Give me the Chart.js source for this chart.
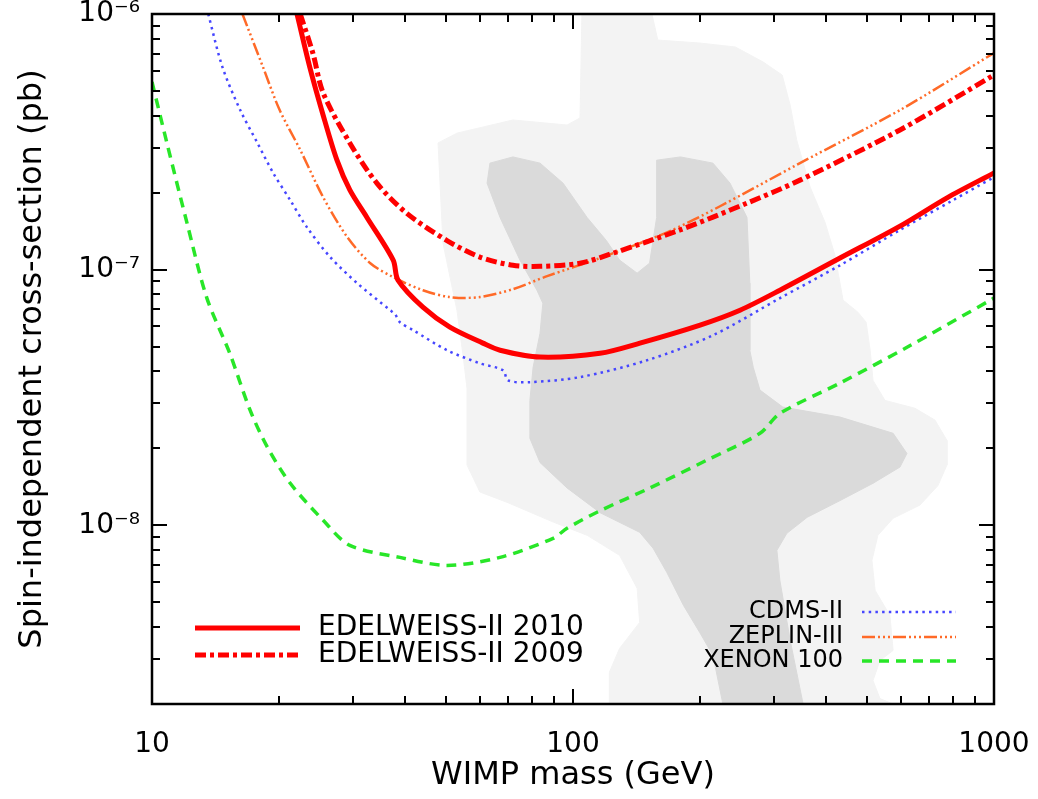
<!DOCTYPE html>
<html>
<head>
<meta charset="utf-8">
<script src="https://cdn.jsdelivr.net/npm/chart.js@4.4.1/dist/chart.umd.min.js"></script>
<style>
  html, body { margin: 0; padding: 0; background: #fff; }
  #wrap { width: 1038px; height: 799px; }
</style>
</head>
<body>
<div id="wrap"><canvas id="myChart" width="1038" height="799"></canvas></div>
<script>
// WIMP mass (GeV) and cross-section (pb)
const edel2010Mass = [22.1, 23.7, 25.5, 27.5, 29.5, 32.4, 37.4, 38.4, 44.0, 51.0, 61.1, 67.1, 83.5, 115.9, 144.2, 200.4, 249.3, 310.2, 430.8, 598.1, 773.4, 1000];
const edel2010Sigma = [1.0e-6, 6.2e-7, 4.02e-7, 2.68e-7, 2.05e-7, 1.60e-7, 1.09e-7, 9.1e-8, 7.13e-8, 5.96e-8, 5.16e-8, 4.84e-8, 4.55e-8, 4.71e-8, 5.16e-8, 6.07e-8, 6.94e-8, 8.31e-8, 1.11e-7, 1.48e-7, 1.91e-7, 2.39e-7];

const edel2009Mass = [22.5, 24.1, 25.5, 29.5, 34.2, 40.3, 50.2, 60.1, 72.0, 83.5, 103.9, 124.5, 179.6, 259.0, 346, 598, 1000];
const edel2009Sigma = [1.0e-6, 7.04e-7, 4.91e-7, 3.13e-7, 2.18e-7, 1.66e-7, 1.30e-7, 1.12e-7, 1.04e-7, 1.03e-7, 1.06e-7, 1.16e-7, 1.43e-7, 1.82e-7, 2.24e-7, 3.52e-7, 5.77e-7];

const cdmsMass = [13.6, 14.7, 16.2, 17.8, 19.4, 21.3, 23.3, 26.5, 30.7, 36.8, 37.8, 38.8, 41.7, 50.2, 60.1, 68.2, 70.1, 79.0, 103.9, 149.9, 215.1, 310.2, 430.8, 598.1, 799.2, 1000];
const cdmsSigma = [1.0e-6, 6.2e-7, 4.21e-7, 3.13e-7, 2.39e-7, 1.87e-7, 1.47e-7, 1.12e-7, 8.86e-8, 6.94e-8, 6.69e-8, 6.23e-8, 5.80e-8, 4.84e-8, 4.30e-8, 4.04e-8, 3.69e-8, 3.63e-8, 3.80e-8, 4.42e-8, 5.54e-8, 7.74e-8, 1.04e-7, 1.43e-7, 1.87e-7, 2.30e-7];

const zeplinMass = [16.4, 18.35, 20.1, 22.5, 25.5, 29.1, 33.0, 37.4, 44.0, 51.0, 60.1, 72.0, 86.8, 115.9, 167.3, 223.5, 346, 598, 1000];
const zeplinSigma = [1.0e-6, 6.2e-7, 4.21e-7, 2.94e-7, 1.92e-7, 1.34e-7, 1.06e-7, 9.35e-8, 8.31e-8, 7.81e-8, 7.81e-8, 8.39e-8, 9.43e-8, 1.11e-7, 1.40e-7, 1.77e-7, 2.61e-7, 4.21e-7, 7.04e-7];

const xenonMass = [10, 10.85, 12.1, 13.5, 15.3, 17.1, 18.8, 21.3, 25.5, 29.5, 38.8, 50.2, 67.1, 89.7, 96.8, 115.9, 152.4, 208.2, 278.1, 310.2, 430.8, 621.4, 1000];
const xenonSigma = [5.42e-7, 3.13e-7, 1.53e-7, 7.74e-8, 4.71e-8, 2.82e-8, 2.02e-8, 1.46e-8, 1.046e-8, 8.35e-9, 7.49e-9, 6.97e-9, 7.49e-9, 8.89e-9, 9.73e-9, 1.14e-8, 1.40e-8, 1.80e-8, 2.29e-8, 2.74e-8, 3.60e-8, 4.97e-8, 7.74e-8];

// outer (light grey) and inner (dark grey) allowed regions, as closed outlines
const lightMass = [105, 154, 159, 200, 243, 283, 314, 328, 340, 366, 397, 419, 438, 475, 497, 508, 516, 551, 649, 724, 773, 773, 736, 667, 576, 530, 513, 522, 566, 576, 536, 516, 536, 576, 122, 122, 129, 144, 142, 129, 108, 89.7, 69.7, 60.1, 56.0, 56.0, 54.8, 53.0, 49.1, 47.8, 53.0, 72.0, 96.8, 103.9, 105];
const lightSigma = [1e-6, 1e-6, 7.91e-7, 7.70e-7, 7.43e-7, 6.49e-7, 5.77e-7, 4.40e-7, 3.21e-7, 2.10e-7, 1.53e-7, 1.14e-7, 7.60e-8, 6.82e-8, 6.23e-8, 4.84e-8, 3.69e-8, 3.08e-8, 2.87e-8, 2.58e-8, 2.15e-8, 1.72e-8, 1.43e-8, 1.20e-8, 1.065e-8, 9.14e-9, 7.29e-9, 5.57e-9, 4.44e-9, 3.24e-9, 2.96e-9, 2.47e-9, 2.10e-9, 2e-9, 2e-9, 2.66e-9, 3.30e-9, 4.17e-9, 5.67e-9, 7.63e-9, 9.14e-9, 1.03e-8, 1.23e-8, 1.35e-8, 1.72e-8, 3.44e-8, 4.63e-8, 6.94e-8, 1.27e-7, 3.13e-7, 3.42e-7, 3.85e-7, 3.68e-7, 3.92e-7, 1e-6];

const darkMass = [62.5, 63.5, 72.0, 83.5, 94.7, 108, 120, 129, 142, 152, 158, 158, 180, 215, 236, 259, 263, 263, 268, 278, 315, 431, 576, 621, 598, 516, 431, 360, 322, 305, 310, 328, 352, 227, 215, 200, 183, 167, 155, 144, 116, 96.8, 83.5, 79.0, 79.0, 80.4, 83.5, 84.8, 82.1, 74.8, 67.1, 62.5];
const darkSigma = [2.18e-7, 2.61e-7, 2.76e-7, 2.61e-7, 2.18e-7, 1.60e-7, 1.30e-7, 1.09e-7, 9.69e-8, 1.06e-7, 1.60e-7, 2.68e-7, 2.76e-7, 2.61e-7, 2.18e-7, 1.60e-7, 8.86e-8, 4.84e-8, 4.15e-8, 3.38e-8, 2.90e-8, 2.65e-8, 2.29e-8, 1.91e-8, 1.69e-8, 1.46e-8, 1.25e-8, 1.075e-8, 9.30e-9, 7.98e-9, 6.09e-9, 3.55e-9, 2e-9, 2e-9, 3.10e-9, 3.81e-9, 4.86e-9, 6.55e-9, 8.13e-9, 9.39e-9, 1.12e-8, 1.40e-8, 1.76e-8, 2.19e-8, 3.08e-8, 4.15e-8, 5.64e-8, 7.39e-8, 8.31e-8, 1.09e-7, 1.60e-7, 2.18e-7];

// axes
const xMajorTicks = [10, 100, 1000];
const yMajorTicks = [1e-8, 1e-7, 1e-6];
const xRange = [10, 1000];
const yRange = [2e-9, 1e-6];

const pts = (xs, ys) => xs.map((m, i) => ({x: m, y: ys[i]}));

const sup = {'-': '\u207B', '0': '\u2070', '1': '\u00B9', '2': '\u00B2', '3': '\u00B3',
  '4': '\u2074', '5': '\u2075', '6': '\u2076', '7': '\u2077', '8': '\u2078', '9': '\u2079'};
const powLabel = v => '10' + String(Math.round(Math.log10(v))).split('').map(c => sup[c]).join('');

// minor tick values 2..9 in each decade
function minorTicks(lo, hi) {
  const out = [];
  for (let e = Math.floor(Math.log10(lo)); e < Math.ceil(Math.log10(hi)); e++) {
    for (let k = 1; k <= 9; k++) {
      const v = k * Math.pow(10, e);
      if (v >= lo * 0.999 && v <= hi * 1.001) out.push({v, major: k === 1});
    }
  }
  return out;
}

// inward ticks on all four sides plus the box
const frameTicks = {
  id: 'frameTicks',
  afterDatasetsDraw(chart) {
    const {ctx, chartArea: a, scales: {x, y}} = chart;
    ctx.save();
    ctx.strokeStyle = '#000';
    ctx.lineWidth = 2;
    ctx.setLineDash([]);
    ctx.beginPath();
    minorTicks(xRange[0], xRange[1]).forEach(t => {
      const px = Math.round(x.getPixelForValue(t.v));
      const len = t.major ? 15 : 8;
      ctx.moveTo(px, a.bottom); ctx.lineTo(px, a.bottom - len);
      ctx.moveTo(px, a.top); ctx.lineTo(px, a.top + len);
    });
    minorTicks(yRange[0], yRange[1]).forEach(t => {
      const py = Math.round(y.getPixelForValue(t.v));
      const len = t.major ? 15 : 8;
      ctx.moveTo(a.left, py); ctx.lineTo(a.left + len, py);
      ctx.moveTo(a.right, py); ctx.lineTo(a.right - len, py);
    });
    ctx.stroke();
    ctx.lineWidth = 2.5;
    ctx.strokeRect(a.left, a.top, a.right - a.left, a.bottom - a.top);
    ctx.restore();
  }
};

// the two in-plot legends
const legendBlocks = {
  id: 'legendBlocks',
  afterDraw(chart) {
    const {ctx} = chart;
    const ds = chart.data.datasets;
    const sample = (d, x0, x1, yy) => {
      ctx.save();
      ctx.strokeStyle = d.borderColor;
      ctx.lineWidth = d.borderWidth;
      ctx.setLineDash(d.borderDash || []);
      ctx.beginPath();
      ctx.moveTo(x0, yy); ctx.lineTo(x1, yy);
      ctx.stroke();
      ctx.restore();
    };
    ctx.save();
    ctx.fillStyle = '#000';
    ctx.textBaseline = 'middle';
    ctx.font = '28px "DejaVu Sans"';
    ctx.textAlign = 'left';
    [[0, 628], [1, 655]].forEach(([i, yy]) => {
      sample(ds[i], 195, 300, yy);
      ctx.fillText(ds[i].label, 318, yy);
    });
    ctx.font = '24px "DejaVu Sans"';
    ctx.textAlign = 'right';
    [[2, 612], [3, 637], [4, 661]].forEach(([i, yy]) => {
      sample(ds[i], 862, 956, yy);
      ctx.fillText(ds[i].label, 843, yy);
    });
    ctx.restore();
  }
};

const ctx = document.getElementById('myChart').getContext('2d');
const line = (label, xs, ys, color, width, dash, order) => ({
  label, data: pts(xs, ys), showLine: true, fill: false,
  borderColor: color, borderWidth: width, borderDash: dash,
  pointRadius: 0, pointHoverRadius: 0, tension: 0.3, order
});
const region = (label, xs, ys, color, order) => ({
  label, data: pts(xs, ys), showLine: true, fill: 'shape',
  backgroundColor: color, borderColor: color, borderWidth: 1,
  pointRadius: 0, pointHoverRadius: 0, tension: 0, order
});

let myChart = new Chart(ctx, {
  type: 'scatter',
  data: {
    datasets: [
      line('EDELWEISS-II 2010', edel2010Mass, edel2010Sigma, '#ff0000', 5, [], 0),
      line('EDELWEISS-II 2009', edel2009Mass, edel2009Sigma, '#ff0000', 5, [11, 4, 4, 4], 1),
      line('CDMS-II', cdmsMass, cdmsSigma, '#4646ff', 2.5, [2.5, 4.2], 2),
      line('ZEPLIN-III', zeplinMass, zeplinSigma, '#ff6a28', 2.5, [13, 3, 2, 3, 2, 3, 2, 3], 2),
      line('XENON 100', xenonMass, xenonSigma, '#28e628', 3.5, [10, 7], 2),
      region('outer region', lightMass, lightSigma, '#f3f3f3', 20),
      region('inner region', darkMass, darkSigma, '#dadada', 15)
    ]
  },
  options: {
    responsive: false,
    animation: false,
    devicePixelRatio: 1,
    layout: { padding: { left: 0, top: 14, right: 44, bottom: 0 } },
    plugins: {
      legend: { display: false },
      tooltip: { enabled: false }
    },
    scales: {
      x: {
        type: 'logarithmic',
        min: xRange[0],
        max: xRange[1],
        grid: { display: false, drawTicks: false },
        border: { display: false },
        afterBuildTicks: s => { s.ticks = xMajorTicks.map(v => ({value: v})); },
        afterFit: s => { s.height = 95; s.paddingLeft = 0; s.paddingRight = 0; },
        ticks: {
          callback: v => String(v),
          font: { family: 'DejaVu Sans', size: 28 },
          color: '#000',
          padding: 24,
          maxRotation: 0,
          autoSkip: false
        },
        title: {
          display: true,
          text: 'WIMP mass (GeV)',
          font: { family: 'DejaVu Sans', size: 32 },
          color: '#000',
          padding: { top: 0, bottom: 4 }
        }
      },
      y: {
        type: 'logarithmic',
        min: yRange[0],
        max: yRange[1],
        grid: { display: false, drawTicks: false },
        border: { display: false },
        afterBuildTicks: s => { s.ticks = yMajorTicks.map(v => ({value: v})); },
        afterFit: s => { s.width = 152; s.paddingTop = 0; s.paddingBottom = 0; },
        ticks: {
          callback: v => powLabel(v),
          font: { family: 'DejaVu Sans', size: 28 },
          color: '#000',
          padding: 12,
          autoSkip: false
        },
        title: {
          display: true,
          text: 'Spin-independent cross-section (pb)',
          font: { family: 'DejaVu Sans', size: 32 },
          color: '#000',
          padding: { top: 13, bottom: 0 }
        }
      }
    }
  },
  plugins: [frameTicks, legendBlocks]
});
</script>
</body>
</html>
